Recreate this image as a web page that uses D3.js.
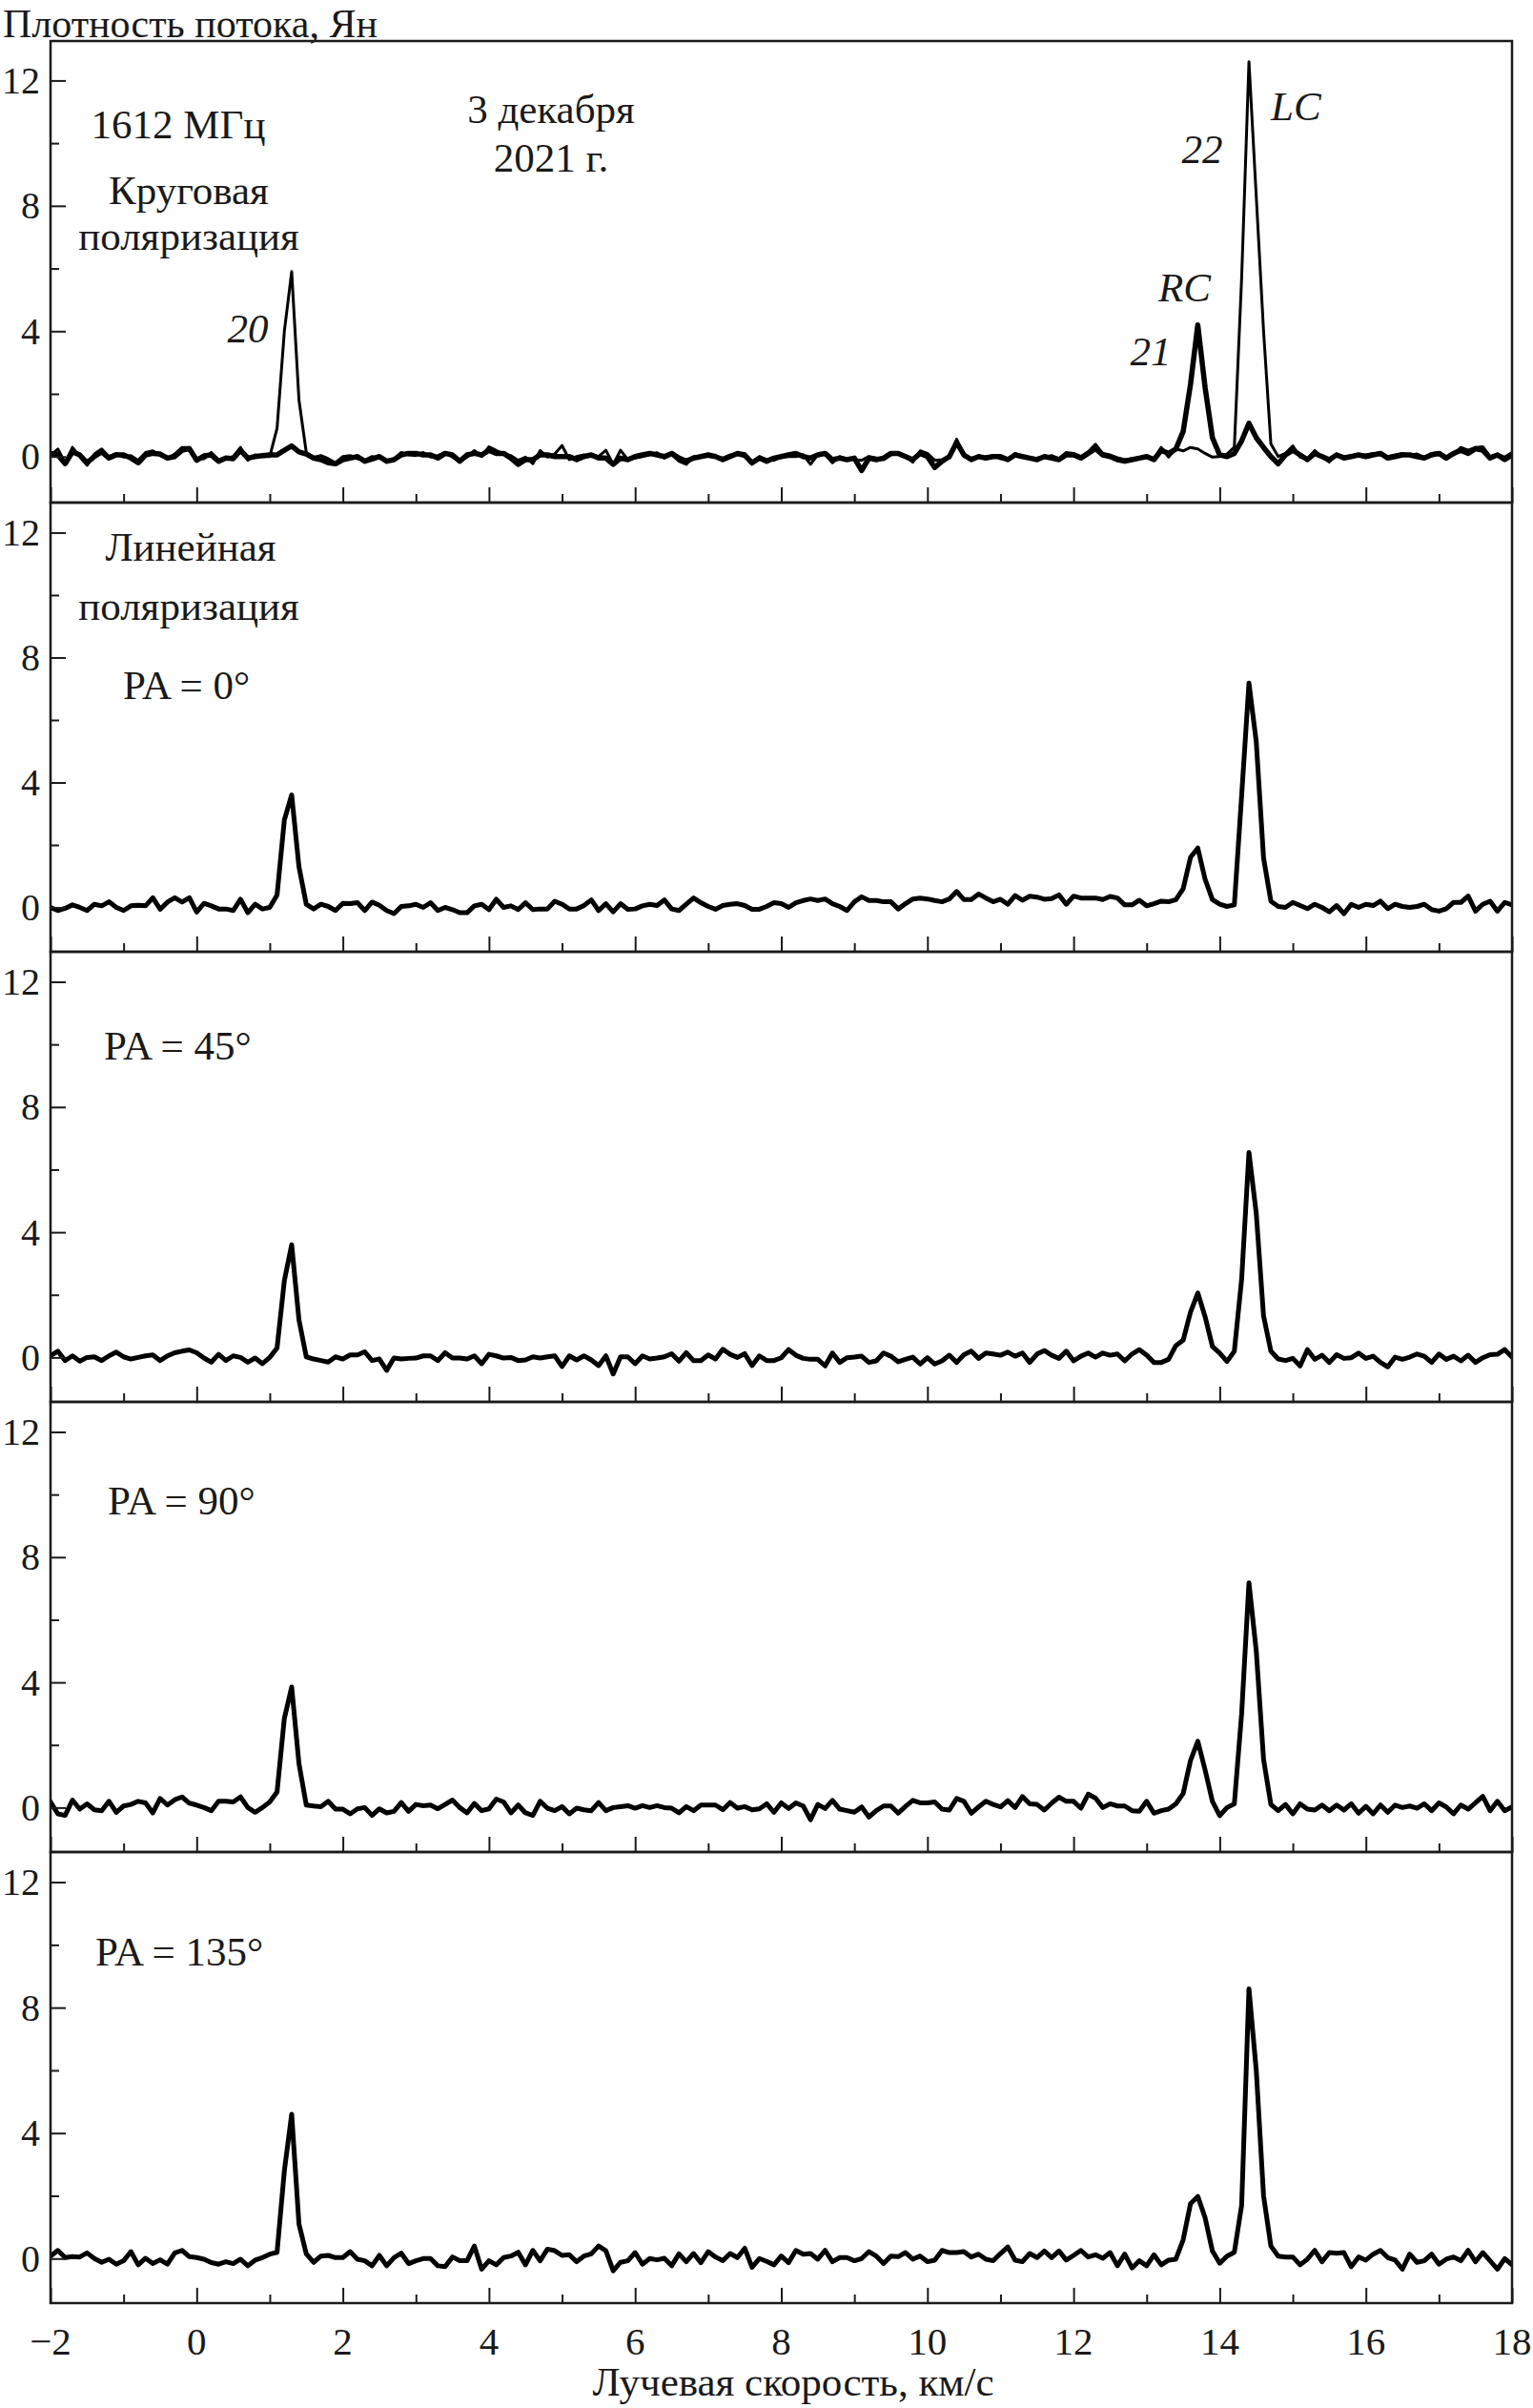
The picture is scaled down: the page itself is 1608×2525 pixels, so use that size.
<!DOCTYPE html>
<html>
<head>
<meta charset="utf-8">
<script src="https://cdn.jsdelivr.net/npm/d3@7"></script>
<style>
body { margin: 0; background: #fff; }
svg text { font-family: "Liberation Serif", "Times New Roman", serif; fill: #1a1a1a; }
.frame { fill: none; stroke: #1a1a1a; stroke-width: 2.5; }
.tick line { stroke: #1a1a1a; stroke-width: 2; }
.spec { fill: none; stroke: #000; stroke-linejoin: round; stroke-linecap: round; }
</style>
</head>
<body>
<svg id="chart"></svg>
<script>
// velocity channels: -2 .. 18 km/s
var vStart = -2, vStep = 0.1;

// circular polarization, LC (thin line)
var fluxLC = [
 0.03, 0.24,-0.20, 0.29, 0.00,-0.28, 0.08, 0.24, 0.00, 0.10,
-0.02, 0.03,-0.12, 0.13, 0.18, 0.03,-0.07, 0.08, 0.29, 0.29,
-0.07,-0.07, 0.13,-0.12,-0.07, 0.00, 0.29,-0.12, 0.05, 0.00,
 0.00, 0.90, 4.00, 5.90, 1.80, 0.13,-0.02, 0.03,-0.07,-0.20,
 0.00, 0.03,-0.07,-0.12, 0.00,-0.05,-0.12,-0.08, 0.13, 0.05,
 0.03, 0.13,-0.02, 0.03, 0.13,-0.02,-0.12,-0.02, 0.19, 0.00,
 0.31, 0.19, 0.08, 0.03,-0.12,-0.02,-0.23, 0.19,-0.02, 0.08,
 0.35,-0.10, 0.00, 0.05, 0.00, 0.00, 0.20,-0.25, 0.20,-0.10,
-0.05, 0.00, 0.05, 0.12,-0.05, 0.06,-0.15,-0.25, 0.00, 0.00,
 0.00,-0.02,-0.05, 0.05, 0.06, 0.00,-0.25, 0.00,-0.10,-0.12,
-0.02, 0.00, 0.00, 0.06,-0.25, 0.06, 0.06,-0.20, 0.00,-0.08,
-0.10,-0.12, 0.00,-0.05,-0.10, 0.05, 0.12, 0.00,-0.18, 0.18,
 0.10,-0.12,-0.10,-0.05, 0.55, 0.00,-0.05,-0.02, 0.00, 0.03,
-0.07,-0.12, 0.10, 0.00,-0.07,-0.05,-0.02, 0.03,-0.07, 0.13,
 0.10, 0.00, 0.15, 0.39, 0.10, 0.05,-0.04,-0.10,-0.07,-0.07,
 0.03,-0.07, 0.29,-0.02, 0.24, 0.18, 0.29, 0.24, 0.10,-0.02,
 0.00, 0.08, 0.30, 5.70,12.60, 8.30, 4.00, 0.40, 0.00, 0.10,
 0.34,-0.02,-0.07, 0.19,-0.02,-0.18, 0.08, 0.00, 0.03, 0.06,
 0.05, 0.10, 0.06, 0.00, 0.05, 0.10, 0.03, 0.08,-0.02, 0.10,
 0.13, 0.00, 0.05, 0.29, 0.20, 0.29, 0.31, 0.00, 0.08,-0.02,
 0.13];

// circular polarization, RC (thick line)
var fluxRC = [
 0.10, 0.05,-0.23, 0.15, 0.05,-0.20, 0.00, 0.15,-0.05, 0.05,
 0.05,-0.05,-0.20, 0.05, 0.10, 0.08,-0.05, 0.00, 0.20, 0.25,
-0.12, 0.02, 0.05,-0.15,-0.05,-0.07, 0.20,-0.05, 0.00, 0.03,
 0.05, 0.05, 0.20, 0.34, 0.15, 0.08,-0.05,-0.10,-0.20,-0.23,
-0.10,-0.05, 0.00,-0.15,-0.08, 0.00,-0.15,-0.10, 0.05, 0.10,
 0.10, 0.05, 0.05,-0.05, 0.10, 0.05,-0.15, 0.05, 0.10, 0.05,
 0.20, 0.10, 0.10,-0.05,-0.25,-0.10,-0.10, 0.05, 0.05, 0.00,
 0.00, 0.00,-0.10, 0.00, 0.05,-0.05,-0.05,-0.25,-0.05,-0.10,
 0.00, 0.05, 0.10, 0.05, 0.00, 0.10,-0.05,-0.15,-0.05, 0.00,
 0.05, 0.00,-0.10, 0.00, 0.10, 0.05,-0.20,-0.05,-0.15,-0.05,
 0.00, 0.05, 0.10, 0.00,-0.05, 0.05, 0.10,-0.10,-0.05,-0.10,
-0.05,-0.45,-0.05,-0.10,-0.05, 0.10, 0.10, 0.00,-0.10, 0.10,
 0.00,-0.35,-0.15, 0.00, 0.45, 0.05,-0.10, 0.00,-0.05, 0.00,
 0.00,-0.10, 0.05, 0.00,-0.05,-0.10, 0.00,-0.05,-0.10, 0.05,
 0.05,-0.05, 0.10, 0.25, 0.05, 0.00,-0.10,-0.15,-0.10,-0.05,
 0.00,-0.10, 0.20, 0.10, 0.24, 0.80, 2.30, 4.20, 2.20, 0.60,
 0.05, 0.00, 0.10, 0.50, 1.06, 0.60, 0.29, 0.00,-0.23, 0.05,
 0.20, 0.05,-0.10, 0.10, 0.00,-0.10, 0.05,-0.05, 0.00, 0.05,
 0.00, 0.05, 0.10,-0.05, 0.00, 0.05, 0.05, 0.00,-0.05, 0.05,
 0.10,-0.05, 0.10, 0.20, 0.10, 0.25, 0.20,-0.05, 0.05,-0.10,
 0.05];

// linear polarization, PA = 0
var fluxPA0 = [
 0.00,-0.10,-0.03, 0.08, 0.00,-0.10, 0.10, 0.05, 0.18, 0.00,
-0.10, 0.05, 0.07, 0.05, 0.31,-0.06, 0.17, 0.31, 0.17, 0.31,
-0.15, 0.13, 0.05,-0.05,-0.05,-0.10, 0.26,-0.17, 0.10,-0.05,
 0.00, 0.40, 2.80, 3.60, 1.30, 0.10,-0.05, 0.10, 0.03,-0.10,
 0.13, 0.12, 0.15,-0.10, 0.17, 0.07,-0.10,-0.20, 0.03, 0.05,
 0.10, 0.00, 0.15,-0.10, 0.00,-0.07,-0.17,-0.17, 0.05, 0.10,
-0.07, 0.26, 0.00, 0.05,-0.07, 0.15,-0.07,-0.05,-0.05, 0.20,
 0.10,-0.05,-0.05, 0.06, 0.24,-0.10, 0.12,-0.14, 0.12,-0.06,
-0.05, 0.05, 0.10, 0.06, 0.24,-0.05,-0.10, 0.10, 0.30, 0.15,
 0.03,-0.06, 0.06, 0.10, 0.12, 0.06,-0.06,-0.06, 0.03, 0.15,
 0.12, 0.00, 0.15, 0.22, 0.27, 0.22, 0.27, 0.12, 0.03,-0.10,
 0.18, 0.34, 0.22, 0.22, 0.18, 0.18,-0.05, 0.12, 0.27, 0.30,
 0.27, 0.22, 0.18, 0.27, 0.51, 0.25, 0.25, 0.43, 0.30, 0.18,
 0.26, 0.10, 0.38, 0.23, 0.36, 0.33, 0.26, 0.28, 0.40, 0.10,
 0.36, 0.30, 0.30, 0.30, 0.25, 0.35, 0.30, 0.08, 0.08, 0.23,
 0.05, 0.12, 0.20, 0.18, 0.25, 0.60, 1.60, 1.90, 0.90, 0.25,
 0.10, 0.03, 0.08, 3.58, 7.18, 5.30, 1.58, 0.20, 0.03, 0.00,
 0.16, 0.06,-0.04, 0.10, 0.00,-0.14, 0.06,-0.20, 0.10, 0.00,
 0.10, 0.06, 0.20,-0.04, 0.10, 0.03, 0.00, 0.03, 0.10,-0.07,
-0.12,-0.04, 0.16, 0.16, 0.36,-0.12, 0.10, 0.20,-0.12, 0.16,
 0.08];

// linear polarization, PA = 45
var fluxPA45 = [
 0.05, 0.20,-0.10, 0.05,-0.12, 0.00, 0.02,-0.10, 0.05, 0.17,
 0.02,-0.05, 0.00, 0.05, 0.08,-0.10, 0.05, 0.15, 0.20, 0.24,
 0.15,-0.02,-0.15, 0.10,-0.10, 0.05, 0.00,-0.15,-0.02,-0.20,
 0.00, 0.30, 2.46, 3.60, 1.20, 0.02,-0.05,-0.10,-0.15, 0.02,
-0.05, 0.08, 0.08, 0.18,-0.10,-0.05,-0.41,-0.02,-0.05,-0.03,
-0.02, 0.05, 0.05,-0.10, 0.15,-0.02,-0.02,-0.05, 0.05,-0.20,
 0.10, 0.05,-0.02, 0.00,-0.10,-0.08, 0.02,-0.02, 0.02, 0.05,
-0.29, 0.05,-0.08, 0.05,-0.08,-0.26, 0.05,-0.53, 0.02, 0.02,
-0.20, 0.05,-0.05,-0.02, 0.02, 0.12,-0.12, 0.15,-0.10,-0.10,
 0.08,-0.05, 0.26, 0.10, 0.00, 0.12,-0.26, 0.05,-0.10,-0.10,
-0.01, 0.25, 0.07,-0.03,-0.06,-0.06,-0.27, 0.14,-0.16,-0.01,
 0.01, 0.04,-0.16,-0.11, 0.14, 0.04,-0.14,-0.06, 0.01,-0.21,
-0.01,-0.21,-0.11, 0.07,-0.16, 0.09, 0.20,-0.03, 0.14, 0.11,
 0.07, 0.17, 0.04, 0.14,-0.16, 0.11, 0.22, 0.07,-0.03, 0.20,
-0.11, 0.04, 0.14, 0.01, 0.14, 0.07, 0.11,-0.11, 0.11, 0.25,
 0.07,-0.16,-0.16,-0.06, 0.38, 0.55, 1.45, 2.06, 1.30, 0.35,
 0.14,-0.13, 0.20, 2.50, 6.55, 4.60, 1.32, 0.20,-0.05,-0.10,
-0.03,-0.27, 0.25,-0.06, 0.07,-0.16, 0.09,-0.03,-0.01, 0.14,
-0.03, 0.04,-0.16,-0.30, 0.01,-0.06, 0.01, 0.11, 0.04,-0.16,
 0.11,-0.06, 0.04,-0.11, 0.07,-0.16,-0.01, 0.09, 0.10, 0.25,
 0.01];

// linear polarization, PA = 90
var fluxPA90 = [
 0.18,-0.20,-0.25, 0.24,-0.05, 0.12,-0.07,-0.10, 0.20,-0.15,
 0.05, 0.10, 0.20, 0.15,-0.17, 0.29, 0.08, 0.25, 0.34, 0.14,
 0.08, 0.00,-0.10, 0.20, 0.20, 0.18, 0.34, 0.00,-0.15, 0.00,
 0.18, 0.50, 2.85, 3.85, 1.40, 0.08, 0.05, 0.03, 0.20,-0.05,
-0.05,-0.20,-0.04, 0.00,-0.25,-0.04,-0.17,-0.12, 0.16,-0.12,
 0.10, 0.06, 0.08,-0.04, 0.10, 0.24, 0.00,-0.17, 0.13,-0.10,
-0.04, 0.27, 0.18,-0.17, 0.08,-0.17,-0.25, 0.20,-0.02,-0.10,
 0.03,-0.20,-0.02,-0.07,-0.10, 0.16,-0.10, 0.00, 0.03, 0.06,
-0.02, 0.06, 0.00, 0.06, 0.00,-0.02,-0.17, 0.03,-0.10, 0.08,
 0.08, 0.08,-0.07, 0.16,-0.02, 0.03,-0.07,-0.04, 0.12,-0.15,
 0.15,-0.03, 0.15, 0.05,-0.39, 0.10,-0.03, 0.23,-0.05,-0.10,
-0.15, 0.02,-0.30,-0.10, 0.05, 0.05,-0.18, 0.04, 0.23, 0.15,
 0.15, 0.18,-0.05,-0.08, 0.29, 0.20,-0.18, 0.02, 0.20, 0.10,
 0.02, 0.22, 0.00, 0.35, 0.12, 0.10,-0.08, 0.14, 0.33, 0.20,
 0.20,-0.02, 0.43, 0.30, 0.00, 0.12, 0.05, 0.05,-0.10,-0.12,
 0.20,-0.18,-0.10,-0.05, 0.12, 0.45, 1.50, 2.12, 1.20, 0.20,
-0.26, 0.00, 0.12, 3.00, 7.18, 5.00, 1.54, 0.10,-0.10, 0.10,
-0.20, 0.12,-0.05,-0.08, 0.08,-0.10, 0.08,-0.08, 0.12,-0.18,
 0.04,-0.20, 0.08,-0.15, 0.08, 0.00, 0.05,-0.02, 0.12,-0.10,
 0.15, 0.02,-0.20, 0.08,-0.05, 0.15, 0.36,-0.10, 0.20,-0.10,
 0.02];

// linear polarization, PA = 135
var fluxPA135 = [
 0.08, 0.26, 0.03, 0.06, 0.05, 0.18, 0.00,-0.12,-0.02,-0.18,
-0.07, 0.22,-0.20, 0.01,-0.16,-0.04,-0.18, 0.18, 0.26, 0.06,
 0.03,-0.02,-0.13,-0.18,-0.10,-0.16,-0.02,-0.23,-0.05, 0.03,
 0.14, 0.20, 2.80, 4.60, 1.10, 0.15,-0.12, 0.08, 0.10, 0.03,
 0.03, 0.22,-0.02,-0.07,-0.23, 0.10,-0.23, 0.03, 0.17,-0.16,
-0.07, 0.00, 0.00,-0.23,-0.26, 0.05,-0.07,-0.07, 0.40,-0.34,
-0.07,-0.20, 0.03, 0.08, 0.20,-0.20, 0.26,-0.07, 0.30, 0.25,
 0.10, 0.12,-0.10, 0.08, 0.15, 0.40, 0.25,-0.39,-0.12,-0.07,
 0.19,-0.18, 0.00,-0.04, 0.01,-0.23, 0.15,-0.10, 0.16,-0.13,
 0.22, 0.05,-0.07, 0.16, 0.03, 0.33,-0.28, 0.00,-0.09,-0.20,
 0.08,-0.13, 0.26, 0.14, 0.16,-0.02, 0.26,-0.10, 0.03, 0.03,
-0.07, 0.00, 0.22, 0.08,-0.16, 0.08, 0.06, 0.19,-0.02, 0.08,
-0.10,-0.05, 0.26, 0.19, 0.19, 0.22, 0.05, 0.14,-0.02,-0.07,
 0.16, 0.37,-0.05,-0.10, 0.16, 0.03, 0.24, 0.03, 0.24,-0.05,
 0.10, 0.26, 0.05, 0.12, 0.01, 0.19,-0.23, 0.14,-0.30,-0.07,
-0.23, 0.12,-0.20,-0.05,-0.02, 0.60, 1.75, 1.98, 1.30, 0.24,
-0.15, 0.08, 0.20, 1.70, 8.60, 6.00, 2.00, 0.40, 0.08, 0.05,
 0.05,-0.20,-0.02, 0.26,-0.10, 0.19, 0.17, 0.19,-0.26, 0.05,
-0.05, 0.14, 0.26, 0.03,-0.05,-0.34, 0.14,-0.12,-0.07, 0.14,
-0.18,-0.02, 0.05,-0.07, 0.26,-0.10, 0.19,-0.07,-0.34, 0.00,
-0.20];

var xTicks = [-2, 0, 2, 4, 6, 8, 10, 12, 14, 16, 18];
var xMinor = [-1, 1, 3, 5, 7, 9, 11, 13, 15, 17];
var yTicks = [0, 4, 8, 12];
var yMinor = [2, 6, 10];

var yTitle = "Плотность потока, Ян";
var xTitle = "Лучевая скорость, км/с";

// layout
var width = 1608, height = 2525;
var plotLeft = 53, plotRight = 1586;
var panelTops = [43, 527, 998, 1470, 1942];
var plotBottom = 2415;
var yRanges = [[-1.47, 13.26], [-1.42, 12.96], [-1.42, 12.96], [-1.42, 12.96], [-1.42, 12.96]];
var majorLen = 16, minorLen = 9;
var fontSize = 43;
var tickFont = 40;

var panels = [
	{ series: [ {flux: fluxRC, w: 5.5}, {flux: fluxLC, w: 3} ] },
	{ series: [ {flux: fluxPA0, w: 5} ] },
	{ series: [ {flux: fluxPA45, w: 5} ] },
	{ series: [ {flux: fluxPA90, w: 5} ] },
	{ series: [ {flux: fluxPA135, w: 5} ] }
];

var svg = d3.select("#chart")
.attr("width", width)
.attr("height", height)
.attr("viewBox", [0, 0, width, height]);

svg.append("rect")
.attr("width", width).attr("height", height)
.attr("fill", "#fff");

var x = d3.scaleLinear()
.domain([-2, 18])
.range([plotLeft, plotRight]);

function toPoints(flux) {
	return flux.map(function(f, i) { return [vStart + i*vStep, f]; });
}

function drawPanel(p, i) {
	var top = panelTops[i];
	var bottom = i < panelTops.length-1 ? panelTops[i+1] : plotBottom;
	var y = d3.scaleLinear()
	.domain(yRanges[i])
	.range([bottom, top]);

	var g = svg.append("g").attr("class", "panel");

	var clipId = "clip" + i;
	g.append("clipPath").attr("id", clipId)
	.append("rect")
	.attr("x", plotLeft).attr("y", top)
	.attr("width", plotRight-plotLeft).attr("height", bottom-top);

	var line = d3.line()
	.x(function(d) { return x(d[0]); })
	.y(function(d) { return y(d[1]); });

	g.append("g")
	.attr("clip-path", "url(#" + clipId + ")")
	.selectAll("path")
	.data(p.series)
	.enter()
	.append("path")
	.attr("class", "spec")
	.attr("stroke-width", function(d) { return d.w; })
	.attr("d", function(d) { return line(toPoints(d.flux)); });

	// ticks point inward, labels outside
	g.append("g")
	.attr("transform", "translate(" + plotLeft + ",0)")
	.call(d3.axisRight(y).tickValues(yTicks).tickSize(majorLen).tickFormat(""))
	.call(function(a) { a.select(".domain").remove(); });
	g.append("g")
	.attr("transform", "translate(" + plotLeft + ",0)")
	.call(d3.axisRight(y).tickValues(yMinor).tickSize(minorLen).tickFormat(""))
	.call(function(a) { a.select(".domain").remove(); });

	g.selectAll("text.ylab")
	.data(yTicks)
	.enter()
	.append("text")
	.attr("class", "ylab")
	.attr("x", plotLeft - 11)
	.attr("y", function(d) { return y(d) + tickFont*0.34; })
	.attr("text-anchor", "end")
	.attr("font-size", tickFont)
	.text(function(d) { return d; });

	g.append("g")
	.attr("transform", "translate(0," + bottom + ")")
	.call(d3.axisTop(x).tickValues(xTicks).tickSize(majorLen).tickFormat(""))
	.call(function(a) { a.select(".domain").remove(); });
	g.append("g")
	.attr("transform", "translate(0," + bottom + ")")
	.call(d3.axisTop(x).tickValues(xMinor).tickSize(minorLen).tickFormat(""))
	.call(function(a) { a.select(".domain").remove(); });

	g.append("rect")
	.attr("class", "frame")
	.attr("x", plotLeft).attr("y", top)
	.attr("width", plotRight-plotLeft).attr("height", bottom-top);

	return y;
}

var yScales = panels.map(drawPanel);

svg.selectAll("text.xlab")
.data(xTicks)
.enter()
.append("text")
.attr("class", "xlab")
.attr("x", function(d) { return x(d); })
.attr("y", 2469)
.attr("text-anchor", "middle")
.attr("font-size", tickFont + 1)
.text(function(d) { return d < 0 ? "\u2212" + (-d) : d; });

svg.append("text")
.attr("x", 3).attr("y", 39)
.attr("font-size", 42)
.text(yTitle);

svg.append("text")
.attr("x", 832).attr("y", 2512)
.attr("text-anchor", "middle")
.attr("font-size", fontSize)
.text(xTitle);

// annotations
var notes = [
	{t: "1612 МГц", x: 187, y: 145, a: "middle"},
	{t: "Круговая", x: 198, y: 214, a: "middle"},
	{t: "поляризация", x: 198, y: 262, a: "middle"},
	{t: "3 декабря", x: 578, y: 129, a: "middle"},
	{t: "2021 г.", x: 578, y: 180, a: "middle"},
	{t: "20", x: 260, y: 359, a: "middle", it: true},
	{t: "22", x: 1261, y: 171, a: "middle", it: true},
	{t: "LC", x: 1333, y: 126, a: "start", it: true},
	{t: "RC", x: 1215, y: 316, a: "start", it: true},
	{t: "21", x: 1207, y: 383, a: "middle", it: true},
	{t: "Линейная", x: 200, y: 588, a: "middle"},
	{t: "поляризация", x: 198, y: 650, a: "middle"},
	{t: "PA = 0°", x: 129, y: 733, a: "start"},
	{t: "PA = 45°", x: 109, y: 1111, a: "start"},
	{t: "PA = 90°", x: 113, y: 1588, a: "start"},
	{t: "PA = 135°", x: 100, y: 2061, a: "start"}
];

svg.selectAll("text.note")
.data(notes)
.enter()
.append("text")
.attr("class", "note")
.attr("x", function(d) { return d.x; })
.attr("y", function(d) { return d.y; })
.attr("text-anchor", function(d) { return d.a; })
.attr("font-size", fontSize)
.attr("font-style", function(d) { return d.it ? "italic" : null; })
.text(function(d) { return d.t; });
</script>
</body>
</html>
